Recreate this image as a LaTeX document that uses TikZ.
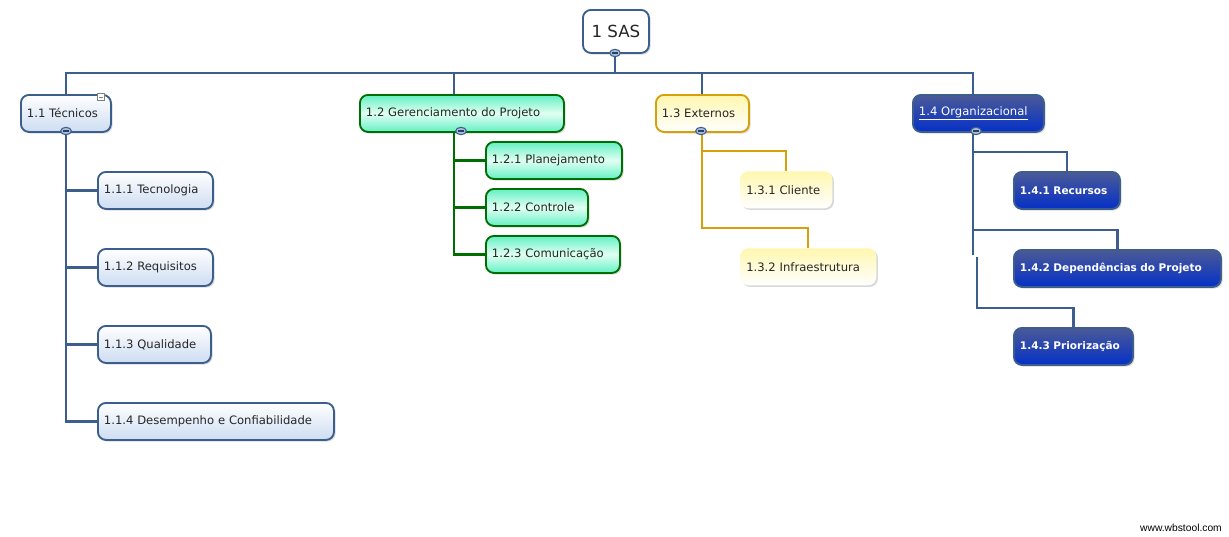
\documentclass[tikz,border=0pt]{standalone}
\usepackage{fontspec}
\setmainfont{DejaVu Sans}
\newfontfamily\wmfont{Liberation Sans}
\usetikzlibrary{shadows,shapes.geometric}
\definecolor{tecblue}{RGB}{59,94,140}
\definecolor{tecfill}{RGB}{205,221,242}
\definecolor{gergreen}{RGB}{0,110,0}
\definecolor{gerfill}{RGB}{100,240,195}
\definecolor{gerlight}{RGB}{225,255,243}
\definecolor{extgold}{RGB}{214,160,10}
\definecolor{extfill}{RGB}{255,247,175}
\definecolor{orgtop}{RGB}{75,90,150}
\definecolor{orgfill}{RGB}{5,48,200}
\definecolor{foldfill}{RGB}{170,190,220}
\tikzstyle{wbs} = [rectangle, rounded corners=6pt, minimum height=27.75pt, inner xsep=4.5pt, inner ysep=0pt, anchor=north west, align=left, text=black!85, font=\fontsize{8.7}{10}\selectfont, drop shadow={opacity=0.3, shadow xshift=1.2pt, shadow yshift=-1.2pt}]
\tikzstyle{root} = [wbs, draw=tecblue, line width=1.4pt, fill=white, minimum width=49.5pt, minimum height=32.25pt, align=center, font=\fontsize{12.5}{14}\selectfont]
\tikzstyle{tec} = [wbs, draw=tecblue, line width=1.4pt, top color=white, bottom color=tecfill]
\tikzstyle{ger} = [wbs, draw=gergreen, line width=1.4pt, top color=gerfill, bottom color=gerfill, middle color=gerlight]
\tikzstyle{ext} = [wbs, top color=extfill, bottom color=white]
\tikzstyle{org} = [wbs, draw=tecblue, line width=1.4pt, top color=orgtop, bottom color=orgfill, text=white, font=\fontsize{7.9}{10}\selectfont\bfseries]
\tikzstyle{fold} = [ellipse, draw=tecblue, fill=foldfill, line width=0.8pt, minimum width=8pt, minimum height=5.5pt, inner sep=0pt, text=tecblue!70!black]
\tikzstyle{icon} = [rectangle, draw=gray, fill=white, line width=0.5pt, minimum size=5.5pt, inner sep=0pt, text=gray]
\tikzstyle{tecline} = [draw=tecblue, line width=1.6pt]
\tikzstyle{gerline} = [draw=gergreen, line width=1.6pt]
\tikzstyle{extline} = [draw=extgold, line width=1.6pt]

\begin{document}
\begin{tikzpicture}[x=0.75pt, y=-0.75pt]
            \useasboundingbox (0,0) rectangle (1229,536);

            \node (sas) [root] at (582,9) {1 SAS};

            \node (n11) [tec, text width=58.5pt] at (20,94) {1.1 Técnicos};
            \node (n12) [ger, text width=144pt] at (359,94) {1.2 Gerenciamento do Projeto};
            \node (n13) [ext, draw=extgold, line width=1.4pt, text width=60.75pt] at (655,94) {1.3 Externos};
            \node (n14) [org, text width=89.25pt, font=\fontsize{8.7}{10}\selectfont] at (912,94) {\underline{1.4 Organizacional}};

            \node (n111) [tec, text width=77.25pt] at (97,171) {1.1.1 Tecnologia};
            \node (n112) [tec, text width=77.25pt] at (97,248) {1.1.2 Requisitos};
            \node (n113) [tec, text width=75.75pt] at (97,325) {1.1.3 Qualidade};
            \node (n114) [tec, text width=168pt] at (97,402) {1.1.4 Desempenho e Confiabilidade};

            \node (n121) [ger, text width=93pt] at (485,141) {1.2.1 Planejamento};
            \node (n122) [ger, text width=67.5pt] at (485,188) {1.2.2 Controle};
            \node (n123) [ger, text width=91.5pt] at (485,235) {1.2.3 Comunicação};

            \node (n131) [ext, text width=60pt] at (740,171) {1.3.1 Cliente};
            \node (n132) [ext, text width=93pt] at (740,248) {1.3.2 Infraestrutura};

            \node (n141) [org, text width=70.5pt] at (1013,171) {1.4.1 Recursos};
            \node (n142) [org, text width=146.25pt] at (1013,249) {1.4.2 Dependências do Projeto};
            \node (n143) [org, text width=80.25pt] at (1013,327) {1.4.3 Priorização};

            \coordinate (bar) at (0,73);
            \coordinate (c0) at (615,53);
            \coordinate (c11) at (66,131);
            \coordinate (c12) at (454,131);
            \coordinate (c13) at (702,131);
            \coordinate (c14) at (973,131);
            \coordinate (c14a) at (973,255);
            \coordinate (c14b) at (977,257);

            % top level
            \draw [tecline] (c0) -- (c0 |- bar);
            \draw [tecline] (n11.north) -- (n11.north |- bar) -- (c14 |- bar) -- (c14 |- n14.north);
            \foreach \b in {c12,c13}
            {
                \draw [tecline] (\b |- bar) -- (\b |- n11.north);
            }

            % branches
            \foreach \c in {1,...,4}
                \draw [tecline] (c11) |- (n11\c.west);
            \foreach \c in {1,2,3}
                \draw [gerline] (c12) |- (n12\c.west);
            \foreach \c in {1,2}
                \draw [extline] (c13) |- ([yshift=15pt]n13\c.north) -- (n13\c.north);
            \foreach \c in {1,2}
                \draw [tecline] (c14) |- ([yshift=14.25pt]n14\c.north) -- (n14\c.north);
            \draw [tecline] (c14) -- (c14a);
            \draw [tecline] (c14b) |- ([yshift=14.25pt]n143.north) -- (n143.north);

            \node (f0) [fold] at (615,53) {\rule{4.5pt}{1.1pt}};
            \node (f11) [fold] at (66,131) {\rule{4.5pt}{1.1pt}};
            \node (f12) [fold] at (461,131) {\rule{4.5pt}{1.1pt}};
            \node (f13) [fold] at (701,131) {\rule{4.5pt}{1.1pt}};
            \node (f14) [fold] at (976,131) {\rule{4.5pt}{1.1pt}};
            \node (i11) [icon] at (101,97) {\rule{3pt}{0.5pt}};

            \node (wm) at (1181,528) {\wmfont\fontsize{7.7}{9}\selectfont www.wbstool.com};
        \end{tikzpicture}
\end{document}
